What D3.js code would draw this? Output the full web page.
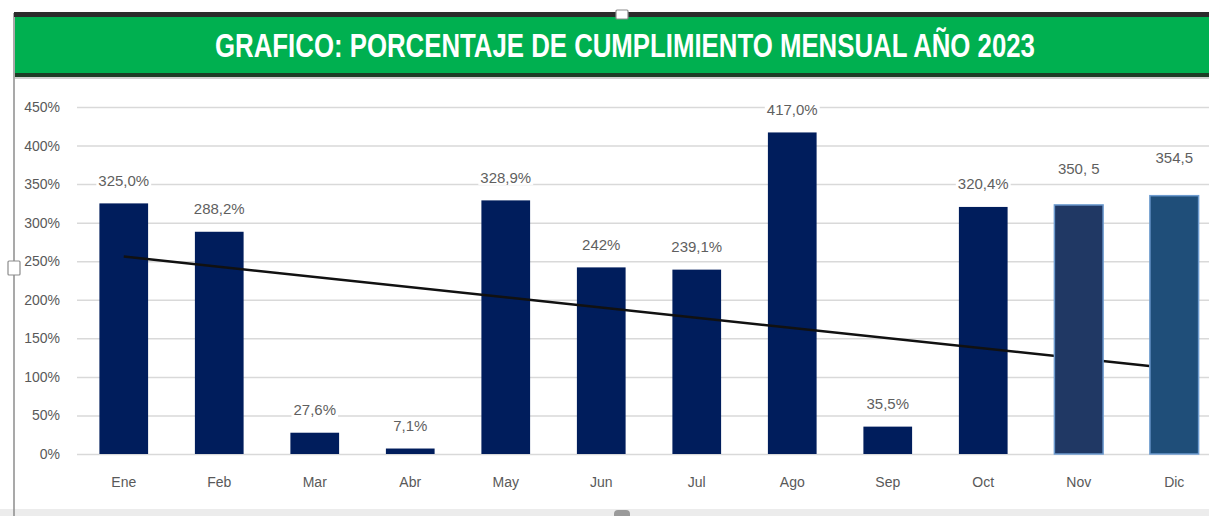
<!DOCTYPE html>
<html lang="es">
<head>
<meta charset="UTF-8">
<title>Cumplimiento mensual 2023</title>
<script src="https://d3js.org/d3.v7.min.js"></script>
<style>
body { margin: 0; background: #fff; }
text { font-family: "Liberation Sans", Arial, sans-serif; }
.axis path, .axis line { display: none; }
.axis text { fill: #595959; font-size: 14px; }
.grid line { stroke: #d9d9d9; stroke-width: 1.5px; }
.grid path { display: none; }
.label { fill: #5f5f5f; font-size: 15px; }
.title { fill: #fff; font-family: "Liberation Sans Narrow", "Arial Narrow", "Liberation Sans", sans-serif; font-weight: bold; font-size: 33px; }
.trend { fill: none; stroke: #111; stroke-width: 2.5px; }
</style>
</head>
<body>
<div class="container"></div>
<script>
var meses = ["Ene","Feb","Mar","Abr","May","Jun","Jul","Ago","Sep","Oct","Nov","Dic"];
// altura de las barras tal como aparecen
var valores = [325, 288.2, 27.6, 7.1, 328.9, 242, 239.1, 417, 35.5, 320.4, 323, 335];
// lo que dicen las etiquetas
var etiquetas = ["325,0%","288,2%","27,6%","7,1%","328,9%","242%","239,1%","417,0%","35,5%","320,4%","350, 5","354,5"];
// altura (en %) a la que esta cada etiqueta
var alturaEtiqueta = [325, 288.2, 27.6, 7.1, 328.9, 242, 239.1, 417, 35.5, 320.4, 340, 354.5];
var ticksY = [0, 50, 100, 150, 200, 250, 300, 350, 400, 450];
// linea de tendencia (mes como indice, valor en %)
var tendencia = [{mes: 0, v: 256}, {mes: 10.74, v: 114}];
var pegados = ["Nov", "Dic"];
var titulo = "GRAFICO: PORCENTAJE DE CUMPLIMIENTO MENSUAL AÑO 2023";

var w = 1209, h = 516;
var colorBarra = "#001d5c";
var colorPegado = {Nov: "#203864", Dic: "#1f4e79"};

var svg = d3.select('.container').append('svg')
    .attr('width', w).attr('height', h);

var x = d3.scaleBand().domain(meses).range([76, 1222])
    .paddingInner(0.49).paddingOuter(0.245);
var y = d3.scaleLinear().domain([0, 450]).range([454, 107]);

// marco
svg.append('rect').attr('x', 0).attr('y', 509).attr('width', w).attr('height', 7).attr('fill', '#ececec');
svg.append('line').attr('x1', 14).attr('x2', 14).attr('y1', 13).attr('y2', 516)
    .attr('stroke', '#8c8c8c').attr('stroke-width', 1.5);
svg.append('rect').attr('x', 14).attr('y', 12).attr('width', w - 14).attr('height', 5).attr('fill', '#2b2b2b');
svg.append('rect').attr('x', 15).attr('y', 17).attr('width', w - 15).attr('height', 57).attr('fill', '#00b050');
svg.append('rect').attr('x', 15).attr('y', 73).attr('width', w - 15).attr('height', 4).attr('fill', '#1d3d26');
svg.append('rect').attr('x', 15).attr('y', 77).attr('width', w - 15).attr('height', 2).attr('fill', '#d0d0d0');

var t = svg.append('text').attr('class', 'title')
    .attr('text-anchor', 'middle')
    .text(titulo);
// letra estrecha: se comprime en horizontal hasta el ancho de la imagen
var largo = t.node().getComputedTextLength();
t.attr('transform', 'translate(625,57) scale(' + (820 / largo) + ',1)');

// rejilla
svg.append('g').attr('class', 'grid')
    .attr('transform', 'translate(77,0)')
    .call(d3.axisLeft(y).tickValues(ticksY).tickSize(-(w - 77)).tickFormat(''));

svg.append('g').attr('class', 'axis')
    .attr('transform', 'translate(77,0)')
    .call(d3.axisLeft(y).tickValues(ticksY).tickSize(0).tickPadding(17)
        .tickFormat(function(d) { return d + '%'; }));

svg.append('g').attr('class', 'axis')
    .attr('transform', 'translate(0,454)')
    .call(d3.axisBottom(x).tickSize(0).tickPadding(23));

var datos = meses.map(function(m, i) {
  return {mes: m, v: valores[i], txt: etiquetas[i], ve: alturaEtiqueta[i], pegado: pegados.indexOf(m) >= 0};
});

function dibujar(g, lista) {
  g.selectAll('rect.bar').data(lista).enter().append('rect')
      .attr('class', 'bar')
      .attr('x', function(d) { return x(d.mes); })
      .attr('y', function(d) { return y(d.v); })
      .attr('width', x.bandwidth())
      .attr('height', function(d) { return y(0) - y(d.v); })
      .attr('fill', function(d) { return d.pegado ? colorPegado[d.mes] : colorBarra; })
      .attr('stroke', function(d) { return d.pegado ? '#6d9bcf' : 'none'; })
      .attr('stroke-width', 1.5);

  var et = g.selectAll('g.et').data(lista).enter().append('g').attr('class', 'et');
  et.append('rect').attr('fill', '#fff');
  et.append('text').attr('class', 'label')
      .attr('text-anchor', 'middle')
      .attr('x', function(d) { return x(d.mes) + x.bandwidth() / 2; })
      .attr('y', function(d) { return y(d.ve) - 17.5; })
      .text(function(d) { return d.txt; });
  et.each(function() {
    var b = d3.select(this).select('text').node().getBBox();
    d3.select(this).select('rect')
        .attr('x', b.x - 2).attr('y', b.y + 1).attr('width', b.width + 4).attr('height', b.height - 2);
  });
}

dibujar(svg.append('g'), datos.filter(function(d) { return !d.pegado; }));

var x0 = x(meses[0]) + x.bandwidth() / 2;
svg.append('path').attr('class', 'trend')
    .attr('d', d3.line()
        .x(function(d) { return x0 + d.mes * x.step(); })
        .y(function(d) { return y(d.v); })(tendencia));

dibujar(svg.append('g'), datos.filter(function(d) { return d.pegado; }));

// asas de seleccion
svg.append('rect').attr('x', 8).attr('y', 261).attr('width', 12).attr('height', 14)
    .attr('fill', '#fff').attr('stroke', '#8c8c8c').attr('stroke-width', 1.2).attr('rx', 1);
svg.append('rect').attr('x', 616).attr('y', 10).attr('width', 12).attr('height', 9)
    .attr('fill', '#fff').attr('stroke', '#8c8c8c').attr('stroke-width', 1.2).attr('rx', 1);
svg.append('rect').attr('x', 614).attr('y', 510).attr('width', 16).attr('height', 10)
    .attr('fill', '#9a9a9a').attr('rx', 4);
</script>
</body>
</html>
